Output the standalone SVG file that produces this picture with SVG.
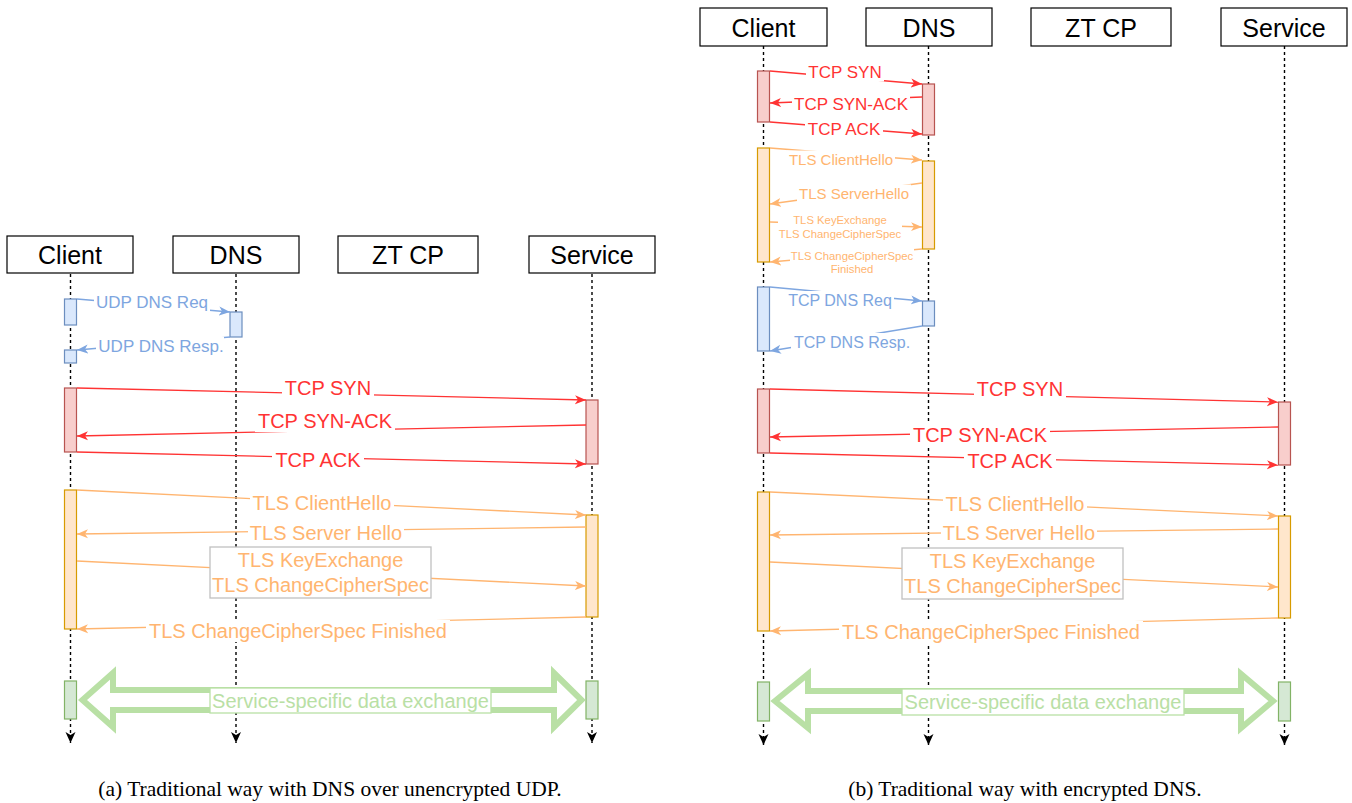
<svg xmlns="http://www.w3.org/2000/svg" width="1352" height="803" viewBox="0 0 1352 803">
<style>
  .hdr rect { fill:#fff; stroke:#000; stroke-width:1.2; }
  .hdr text { font-family:"Liberation Sans", Arial, Helvetica, sans-serif; font-size:25px; fill:#000; text-anchor:middle; dominant-baseline:central; }
  .life { stroke:#000; stroke-width:1.4; stroke-dasharray:3 3; fill:none; }
  .act-red { fill:#f8cecc; stroke:#b85450; stroke-width:1.2; }
  .act-org { fill:#ffe6cc; stroke:#d79b00; stroke-width:1.2; }
  .act-blu { fill:#dae8fc; stroke:#6c8ebf; stroke-width:1.2; }
  .act-grn { fill:#d5e8d4; stroke:#82b366; stroke-width:1.2; }
  .m-red { stroke:#FF3333; stroke-width:1.3; fill:none; }
  .m-org { stroke:#FFB570; stroke-width:1.3; fill:none; }
  .m-blu { stroke:#7EA6E0; stroke-width:1.3; fill:none; }
  .bg { fill:#fff; stroke:none; }
  .lbl { font-family:"Liberation Sans", Arial, Helvetica, sans-serif; text-anchor:middle; dominant-baseline:central; }
  .t-red { fill:#FF3333; }
  .t-org { fill:#FFB570; }
  .t-blu { fill:#7EA6E0; }
  .t-grn { fill:#B9E0A5; }
  .f20 { font-size:20px; }
  .f17 { font-size:17px; }
  .f16 { font-size:16px; }
  .f15 { font-size:15px; }
  .f11 { font-size:11.3px; }
  .box-gray { fill:#fff; stroke:#C0C0C0; stroke-width:1.3; }
  .box-grn { fill:#fff; stroke:#B9E0A5; stroke-width:1.3; }
  .flex { fill:#fff; stroke:#B9E0A5; stroke-width:6; stroke-linejoin:miter; stroke-miterlimit:10; }
  .cap { font-family:"Liberation Serif", "Times New Roman", serif; font-size:21.5px; fill:#000; text-anchor:middle; }
</style>
<defs>
  <marker id="ah-red" markerUnits="userSpaceOnUse" markerWidth="12" markerHeight="10" refX="11" refY="5" orient="auto"><path d="M0,0.5 L11,5 L0,9.5 L3,5 z" fill="#FF3333"/></marker>
  <marker id="ah-org" markerUnits="userSpaceOnUse" markerWidth="12" markerHeight="10" refX="11" refY="5" orient="auto"><path d="M0,0.5 L11,5 L0,9.5 L3,5 z" fill="#FFB570"/></marker>
  <marker id="ah-blu" markerUnits="userSpaceOnUse" markerWidth="12" markerHeight="10" refX="11" refY="5" orient="auto"><path d="M0,0.5 L11,5 L0,9.5 L3,5 z" fill="#7EA6E0"/></marker>
  <marker id="ah-blk" markerUnits="userSpaceOnUse" markerWidth="12" markerHeight="12" refX="11" refY="6" orient="auto"><path d="M0,1 L11,6 L0,11 L3,6 z" fill="#000"/></marker>
</defs>

<!-- ============ LEFT (a) ============ -->
<g id="a-lifelines">
  <line class="life" x1="70.5" y1="274" x2="70.5" y2="743" marker-end="url(#ah-blk)"/>
  <line class="life" x1="236" y1="274" x2="236" y2="743" marker-end="url(#ah-blk)"/>
  <line class="life" x1="592" y1="274" x2="592" y2="743" marker-end="url(#ah-blk)"/>
</g>
<g id="a-client" class="hdr"><rect x="7" y="236" width="126" height="37"/><text x="70" y="255">Client</text></g>
<g id="a-dns" class="hdr"><rect x="173" y="236" width="126" height="37"/><text x="236" y="255">DNS</text></g>
<g id="a-ztcp" class="hdr"><rect x="338" y="236" width="140" height="37"/><text x="408" y="255">ZT CP</text></g>
<g id="a-service" class="hdr"><rect x="529" y="236" width="126" height="37"/><text x="592" y="255">Service</text></g>

<g id="a-activations">
  <rect class="act-blu" x="64.5" y="299" width="12" height="26"/>
  <rect class="act-blu" x="230" y="312" width="12" height="25"/>
  <rect class="act-blu" x="64.5" y="350" width="12" height="13"/>
  <rect class="act-red" x="64.5" y="388" width="12" height="64"/>
  <rect class="act-red" x="586" y="400" width="12" height="64"/>
  <rect class="act-org" x="64.5" y="490" width="12" height="139"/>
  <rect class="act-org" x="586" y="515" width="12" height="102"/>
  <rect class="act-grn" x="64.5" y="681" width="12" height="38"/>
  <rect class="act-grn" x="586" y="681" width="12" height="38"/>
</g>

<g id="a-connectors">
  <line class="m-blu" x1="77" y1="299" x2="230" y2="312" marker-end="url(#ah-blu)"/>
  <rect class="bg" x="94" y="292.5" width="116" height="19"/>
  <text class="lbl f17 t-blu" x="152" y="302">UDP DNS Req</text>

  <line class="m-blu" x1="230" y1="337" x2="77" y2="350" marker-end="url(#ah-blu)"/>
  <rect class="bg" x="96" y="336.5" width="128" height="19"/>
  <text class="lbl f17 t-blu" x="161" y="346">UDP DNS Resp.</text>

  <line class="m-red" x1="77" y1="388" x2="586" y2="400" marker-end="url(#ah-red)"/>
  <rect class="bg" x="282" y="377" width="92" height="22"/>
  <text class="lbl f20 t-red" x="328" y="388">TCP SYN</text>

  <line class="m-red" x1="586" y1="425" x2="77" y2="436" marker-end="url(#ah-red)"/>
  <rect class="bg" x="255" y="410" width="140" height="22"/>
  <text class="lbl f20 t-red" x="325" y="421">TCP SYN-ACK</text>

  <line class="m-red" x1="77" y1="452" x2="586" y2="464" marker-end="url(#ah-red)"/>
  <rect class="bg" x="272" y="449" width="92" height="22"/>
  <text class="lbl f20 t-red" x="318" y="460">TCP ACK</text>

  <line class="m-org" x1="77" y1="490" x2="586" y2="515" marker-end="url(#ah-org)"/>
  <rect class="bg" x="250" y="492" width="144" height="22"/>
  <text class="lbl f20 t-org" x="322" y="503">TLS ClientHello</text>

  <line class="m-org" x1="586" y1="527" x2="77" y2="534" marker-end="url(#ah-org)"/>
  <rect class="bg" x="248" y="522" width="156" height="22"/>
  <text class="lbl f20 t-org" x="326" y="533">TLS Server Hello</text>

  <line class="m-org" x1="77" y1="561" x2="586" y2="586" marker-end="url(#ah-org)"/>
  <rect class="box-gray" x="210" y="547" width="221" height="51"/>
  <text class="lbl f20 t-org" x="320.5" y="560">TLS KeyExchange</text>
  <text class="lbl f20 t-org" x="320.5" y="585">TLS ChangeCipherSpec</text>

  <line class="m-org" x1="586" y1="617" x2="77" y2="629" marker-end="url(#ah-org)"/>
  <rect class="bg" x="146" y="620" width="304" height="22"/>
  <text class="lbl f20 t-org" x="298" y="631">TLS ChangeCipherSpec Finished</text>

  <polygon class="flex" points="82.5,700 113,673 113,690 554,690 554,673 581.5,700 554,727 554,710 113,710 113,727"/>
  <rect class="box-grn" x="210" y="688" width="281" height="25"/>
  <text class="lbl f20 t-grn" x="350.5" y="701">Service-specific data exchange</text>
</g>
<text class="cap" x="330" y="796">(a) Traditional way with DNS over unencrypted UDP.</text>

<!-- ============ RIGHT (b) ============ -->
<g id="b-lifelines">
  <line class="life" x1="763.5" y1="46" x2="763.5" y2="745" marker-end="url(#ah-blk)"/>
  <line class="life" x1="928.5" y1="46" x2="928.5" y2="745" marker-end="url(#ah-blk)"/>
  <line class="life" x1="1284.5" y1="46" x2="1284.5" y2="745" marker-end="url(#ah-blk)"/>
</g>
<g id="b-client" class="hdr"><rect x="700" y="8" width="127" height="38"/><text x="763.5" y="28">Client</text></g>
<g id="b-dns" class="hdr"><rect x="866" y="8" width="126" height="38"/><text x="929" y="28">DNS</text></g>
<g id="b-ztcp" class="hdr"><rect x="1031" y="8" width="140" height="38"/><text x="1101" y="28">ZT CP</text></g>
<g id="b-service" class="hdr"><rect x="1221" y="8" width="126" height="38"/><text x="1284" y="28">Service</text></g>

<g id="b-activations">
  <rect class="act-red" x="757.5" y="71" width="12" height="51"/>
  <rect class="act-red" x="922.5" y="84" width="12" height="51"/>
  <rect class="act-org" x="757.5" y="148" width="12" height="114"/>
  <rect class="act-org" x="922.5" y="161" width="12" height="88"/>
  <rect class="act-blu" x="757.5" y="287" width="12" height="64"/>
  <rect class="act-blu" x="922.5" y="301" width="12" height="25"/>
  <rect class="act-red" x="757.5" y="389" width="12" height="64"/>
  <rect class="act-red" x="1278.5" y="402" width="12" height="63"/>
  <rect class="act-org" x="757.5" y="492" width="12" height="139"/>
  <rect class="act-org" x="1278.5" y="516" width="12" height="102"/>
  <rect class="act-grn" x="757.5" y="682" width="12" height="39"/>
  <rect class="act-grn" x="1278.5" y="682" width="12" height="39"/>
</g>

<g id="b-connectors">
  <line class="m-red" x1="770" y1="71" x2="922" y2="84" marker-end="url(#ah-red)"/>
  <rect class="bg" x="806" y="62.5" width="78" height="19"/>
  <text class="lbl f17 t-red" x="845" y="72">TCP SYN</text>

  <line class="m-red" x1="922" y1="97" x2="770" y2="103" marker-end="url(#ah-red)"/>
  <rect class="bg" x="792" y="94.5" width="118" height="19"/>
  <text class="lbl f17 t-red" x="851" y="104">TCP SYN-ACK</text>

  <line class="m-red" x1="770" y1="122" x2="922" y2="134" marker-end="url(#ah-red)"/>
  <rect class="bg" x="805" y="119.5" width="78" height="19"/>
  <text class="lbl f17 t-red" x="844" y="129">TCP ACK</text>

  <line class="m-org" x1="770" y1="148" x2="922" y2="160" marker-end="url(#ah-org)"/>
  <rect class="bg" x="787" y="150.5" width="108" height="17"/>
  <text class="lbl f15 t-org" x="841" y="159">TLS ClientHello</text>

  <line class="m-org" x1="922" y1="183" x2="770" y2="204" marker-end="url(#ah-org)"/>
  <rect class="bg" x="797" y="184.5" width="114" height="17"/>
  <text class="lbl f15 t-org" x="854" y="193">TLS ServerHello</text>

  <line class="m-org" x1="770" y1="222" x2="922" y2="227" marker-end="url(#ah-org)"/>
  <rect class="bg" x="778" y="212" width="124" height="29"/>
  <text class="lbl f11 t-org" x="840" y="220">TLS KeyExchange</text>
  <text class="lbl f11 t-org" x="840" y="234">TLS ChangeCipherSpec</text>

  <line class="m-org" x1="922" y1="249" x2="770" y2="262" marker-end="url(#ah-org)"/>
  <rect class="bg" x="790" y="248.5" width="124" height="27"/>
  <text class="lbl f11 t-org" x="852" y="256">TLS ChangeCipherSpec</text>
  <text class="lbl f11 t-org" x="852" y="269">Finished</text>

  <line class="m-blu" x1="770" y1="287" x2="922" y2="301" marker-end="url(#ah-blu)"/>
  <rect class="bg" x="786" y="291" width="108" height="18"/>
  <text class="lbl f16 t-blu" x="840" y="300">TCP DNS Req</text>

  <line class="m-blu" x1="922" y1="326" x2="770" y2="351" marker-end="url(#ah-blu)"/>
  <rect class="bg" x="791" y="333" width="122" height="18"/>
  <text class="lbl f16 t-blu" x="852" y="342">TCP DNS Resp.</text>

  <line class="m-red" x1="770" y1="389" x2="1278" y2="402" marker-end="url(#ah-red)"/>
  <rect class="bg" x="974" y="378" width="92" height="22"/>
  <text class="lbl f20 t-red" x="1020" y="389">TCP SYN</text>

  <line class="m-red" x1="1278" y1="427" x2="770" y2="437" marker-end="url(#ah-red)"/>
  <rect class="bg" x="910" y="424" width="140" height="22"/>
  <text class="lbl f20 t-red" x="980" y="435">TCP SYN-ACK</text>

  <line class="m-red" x1="770" y1="453" x2="1278" y2="465" marker-end="url(#ah-red)"/>
  <rect class="bg" x="964" y="450" width="92" height="22"/>
  <text class="lbl f20 t-red" x="1010" y="461">TCP ACK</text>

  <line class="m-org" x1="770" y1="492" x2="1278" y2="516" marker-end="url(#ah-org)"/>
  <rect class="bg" x="943" y="493" width="144" height="22"/>
  <text class="lbl f20 t-org" x="1015" y="504">TLS ClientHello</text>

  <line class="m-org" x1="1278" y1="529" x2="770" y2="535" marker-end="url(#ah-org)"/>
  <rect class="bg" x="941" y="522" width="156" height="22"/>
  <text class="lbl f20 t-org" x="1019" y="533">TLS Server Hello</text>

  <line class="m-org" x1="770" y1="562" x2="1278" y2="587" marker-end="url(#ah-org)"/>
  <rect class="box-gray" x="902" y="548" width="221" height="51"/>
  <text class="lbl f20 t-org" x="1012.5" y="561">TLS KeyExchange</text>
  <text class="lbl f20 t-org" x="1012.5" y="586">TLS ChangeCipherSpec</text>

  <line class="m-org" x1="1278" y1="618" x2="770" y2="631" marker-end="url(#ah-org)"/>
  <rect class="bg" x="839" y="621" width="304" height="22"/>
  <text class="lbl f20 t-org" x="991" y="632">TLS ChangeCipherSpec Finished</text>

  <polygon class="flex" points="775,701 808,674 808,691 1241,691 1241,674 1273,701 1241,728 1241,711 808,711 808,728"/>
  <rect class="box-grn" x="902" y="689" width="282" height="26"/>
  <text class="lbl f20 t-grn" x="1043" y="702">Service-specific data exchange</text>
</g>
<text class="cap" x="1025" y="796">(b) Traditional way with encrypted DNS.</text>
</svg>
